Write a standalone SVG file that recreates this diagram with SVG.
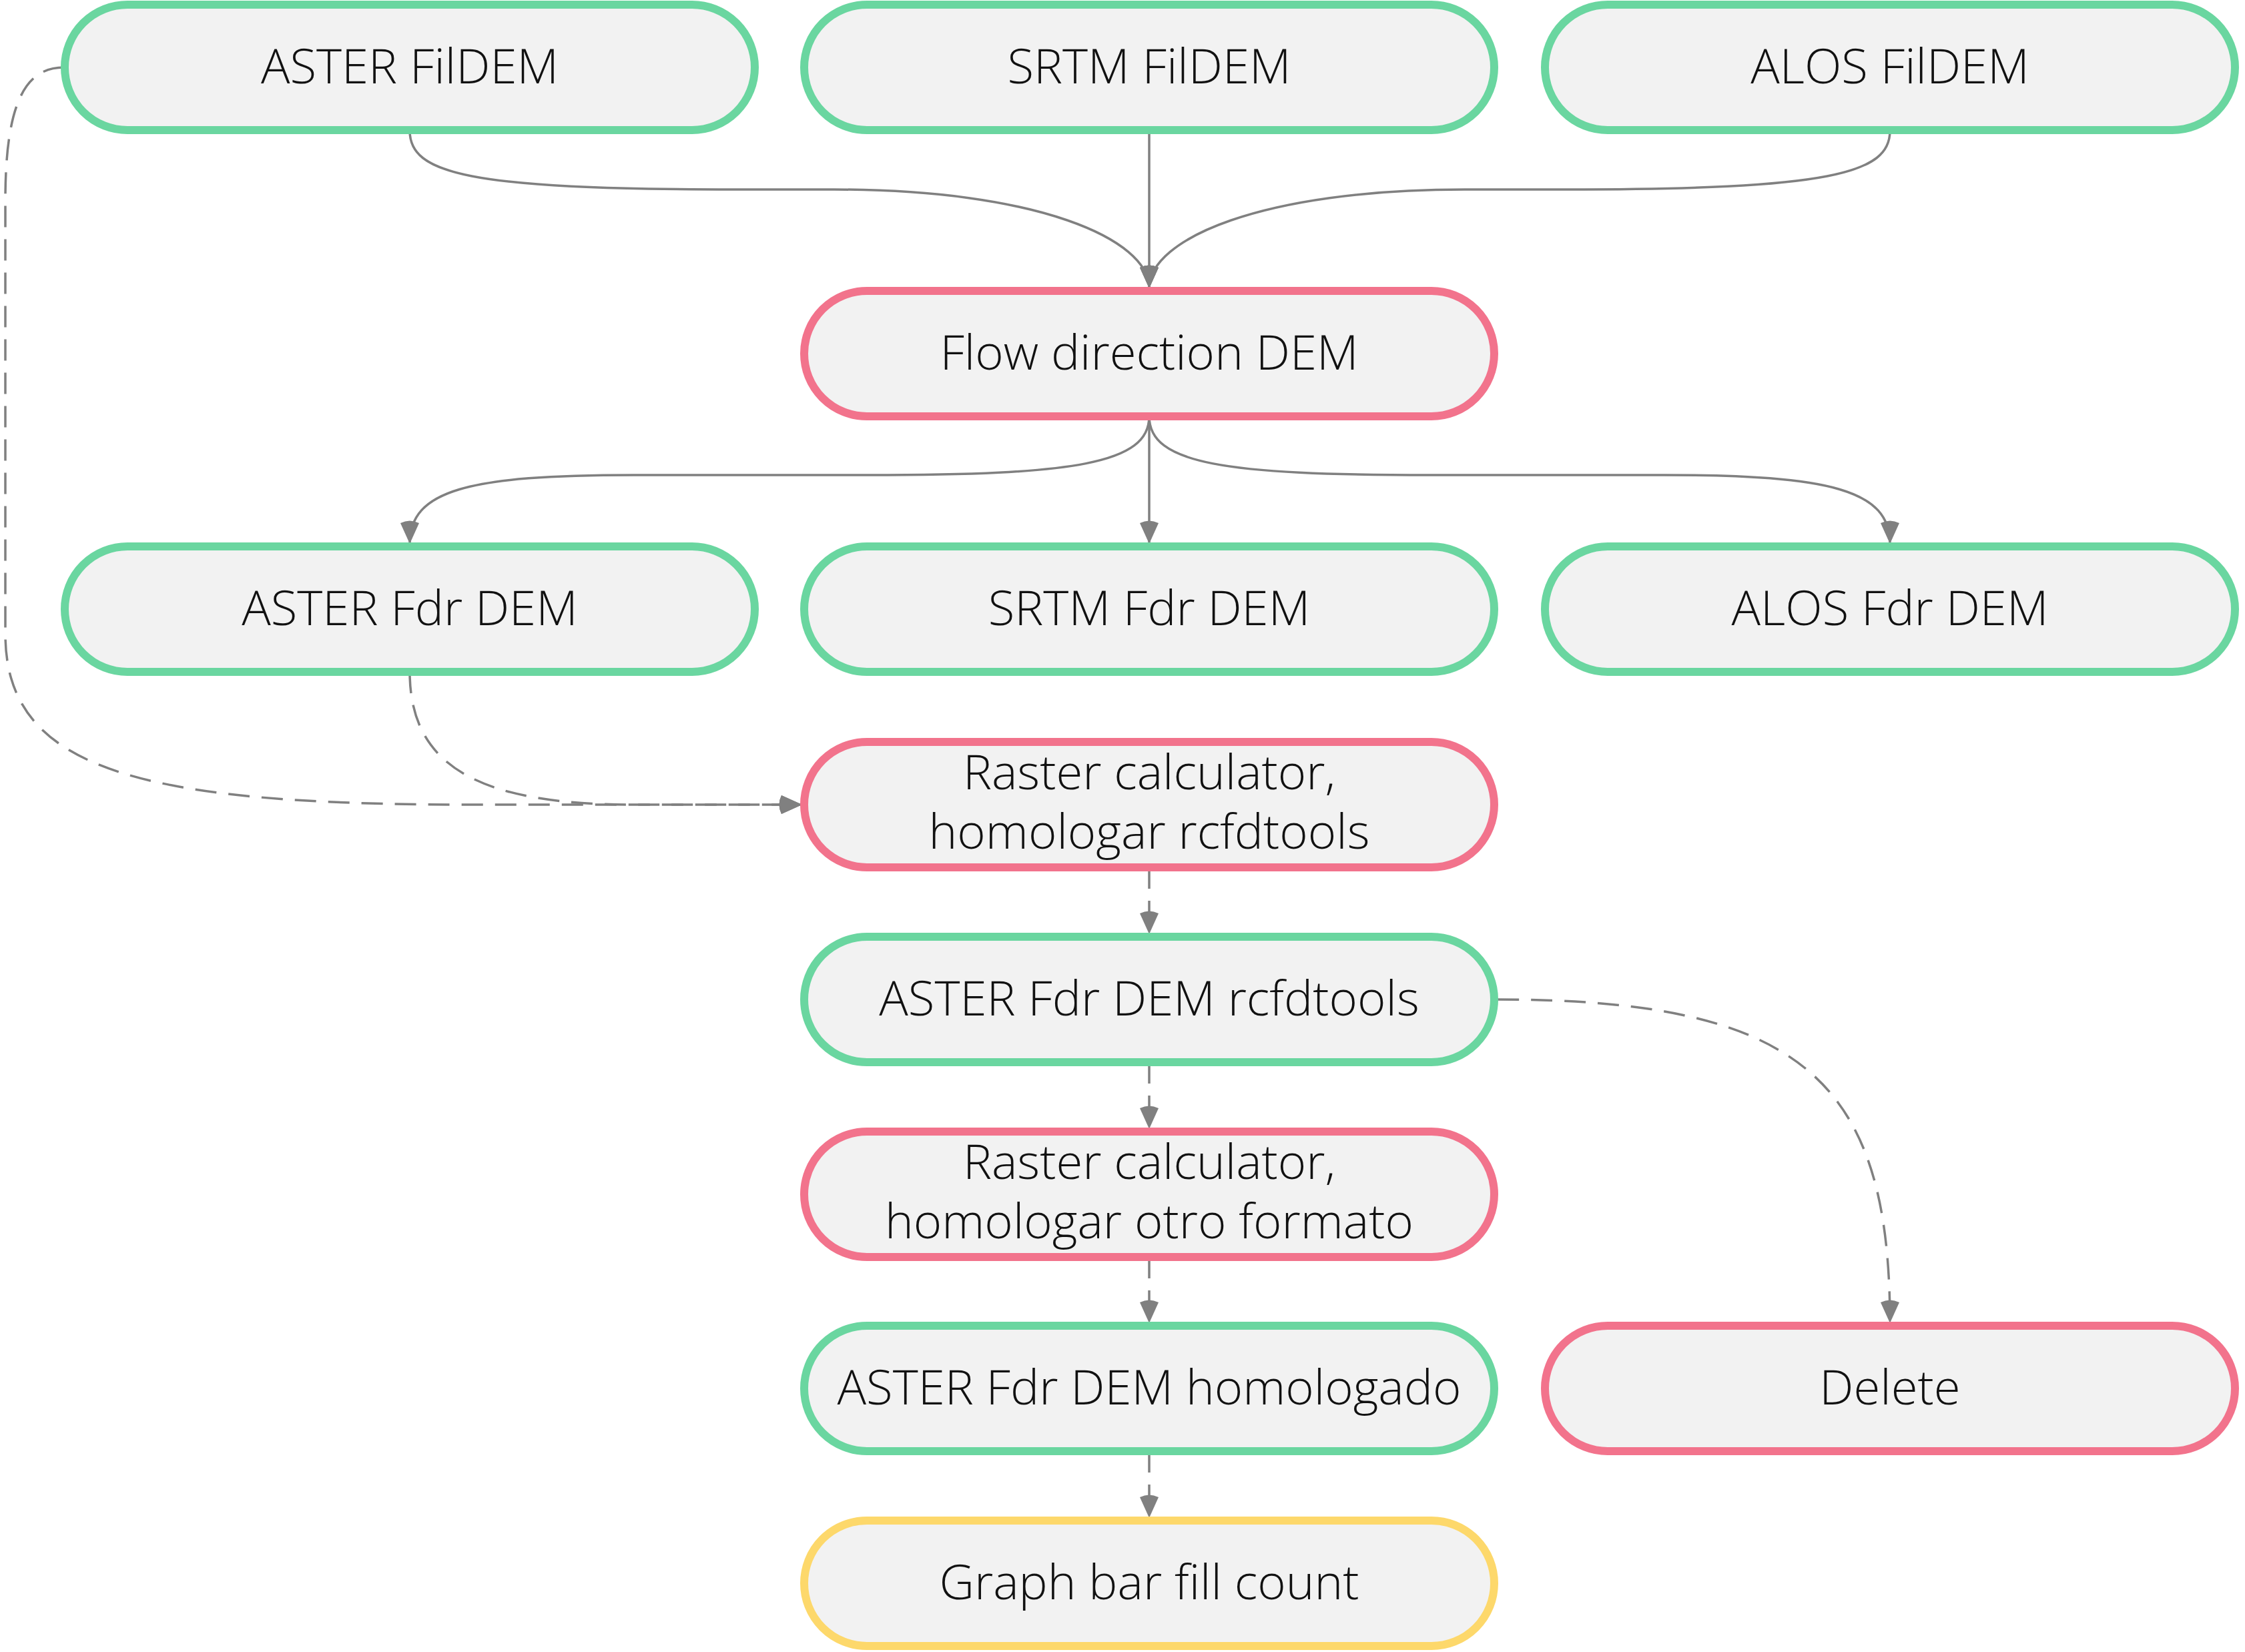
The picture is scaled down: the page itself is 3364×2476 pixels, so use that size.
<svg xmlns="http://www.w3.org/2000/svg" width="3364" height="2476" viewBox="0 0 3364 2476">
<style>
.n rect{fill:#F2F2F2;stroke-width:12}
.g rect{stroke:#6AD6A0}
.r rect{stroke:#F2738C}
.y rect{stroke:#FDD86B}
.n text{font-family:"Open Sans","Noto Sans","Liberation Sans",sans-serif;font-weight:300;font-size:72.5px;fill:#111;text-anchor:middle}
.e path{fill:none;stroke:#808080;stroke-width:3.5}
.e .d{stroke-dasharray:32 18}
</style>
<defs>
<marker id="a" markerUnits="userSpaceOnUse" markerWidth="40" markerHeight="40" viewBox="-6 0 40 30" refX="33" refY="15" orient="auto">
<path d="M2,1 L33,15 L2,29 Q-5,15 2,1 z" fill="#808080"/>
</marker>
</defs>
<rect width="3364" height="2476" fill="#FFFFFF"/>
<g class="e">
<path d="M614,196 C614,260 700,284 1100,284 L1250,284 C1553,284 1722,358 1722,432" marker-end="url(#a)"/>
<path d="M1722,196 L1722,432" marker-end="url(#a)"/>
<path d="M2832,196 C2832,260 2744,284 2344,284 L2194,284 C1891,284 1722,358 1722,432" marker-end="url(#a)"/>
<path d="M1722,624 C1722,695 1610,712 1300,712 L950,712 C700,712 614,735 614,815" marker-end="url(#a)"/>
<path d="M1722,624 L1722,815" marker-end="url(#a)"/>
<path d="M1722,624 C1722,695 1834,712 2144,712 L2494,712 C2744,712 2832,735 2832,815" marker-end="url(#a)"/>
<path class="d" d="M614,1007 C614,1150 720,1206 950,1206 L1202,1206" marker-end="url(#a)"/>
<path class="d" d="M96,101 C40,101 8,150 8,300 L8,950 C8,1150 200,1206 700,1206 L1202,1206" marker-end="url(#a)"/>
<path class="d" d="M1722,1300 L1722,1400" marker-end="url(#a)"/>
<path class="d" d="M1722,1592 L1722,1692" marker-end="url(#a)"/>
<path class="d" d="M1722,1884 L1722,1983" marker-end="url(#a)"/>
<path class="d" d="M1722,2175 L1722,2275" marker-end="url(#a)"/>
<path class="d" d="M2244,1498 C2700,1498 2832,1620 2832,1983" marker-end="url(#a)"/>
</g>
<g id="n1" class="n g"><rect x="97" y="7" width="1034" height="188" rx="94"/><text x="614" y="125">ASTER FilDEM</text></g>
<g id="n2" class="n g"><rect x="1205" y="7" width="1034" height="188" rx="94"/><text x="1722" y="125">SRTM FilDEM</text></g>
<g id="n3" class="n g"><rect x="2315" y="7" width="1034" height="188" rx="94"/><text x="2832" y="125">ALOS FilDEM</text></g>
<g id="n4" class="n r"><rect x="1205" y="436" width="1034" height="188" rx="94"/><text x="1722" y="554">Flow direction DEM</text></g>
<g id="n5" class="n g"><rect x="97" y="819" width="1034" height="188" rx="94"/><text x="614" y="937">ASTER Fdr DEM</text></g>
<g id="n6" class="n g"><rect x="1205" y="819" width="1034" height="188" rx="94"/><text x="1722" y="937">SRTM Fdr DEM</text></g>
<g id="n7" class="n g"><rect x="2315" y="819" width="1034" height="188" rx="94"/><text x="2832" y="937">ALOS Fdr DEM</text></g>
<g id="n8" class="n r"><rect x="1205" y="1112" width="1034" height="188" rx="94"/><text x="1722" y="1183">Raster calculator,</text><text x="1722" y="1272">homologar rcfdtools</text></g>
<g id="n9" class="n g"><rect x="1205" y="1404" width="1034" height="188" rx="94"/><text x="1722" y="1522">ASTER Fdr DEM rcfdtools</text></g>
<g id="n10" class="n r"><rect x="1205" y="1696" width="1034" height="188" rx="94"/><text x="1722" y="1767">Raster calculator,</text><text x="1722" y="1856">homologar otro formato</text></g>
<g id="n11" class="n g"><rect x="1205" y="1987" width="1034" height="188" rx="94"/><text x="1722" y="2105">ASTER Fdr DEM homologado</text></g>
<g id="n12" class="n r"><rect x="2315" y="1987" width="1034" height="188" rx="94"/><text x="2832" y="2105">Delete</text></g>
<g id="n13" class="n y"><rect x="1205" y="2279" width="1034" height="188" rx="94"/><text x="1722" y="2397">Graph bar fill count</text></g>
</svg>
